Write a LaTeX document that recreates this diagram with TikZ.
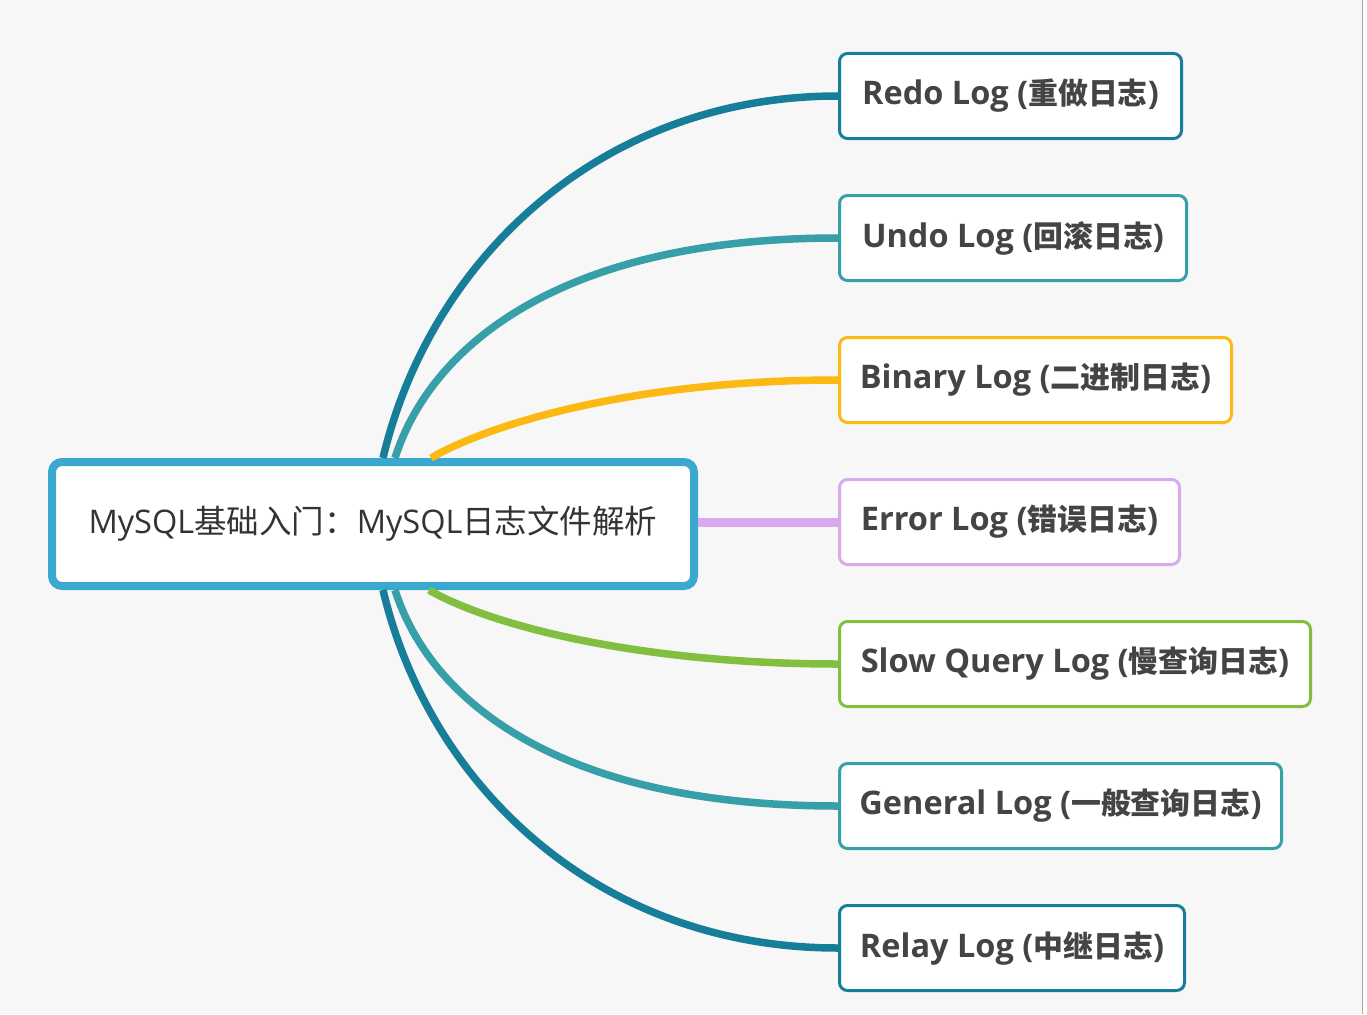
\documentclass[tikz,border=0pt]{standalone}
\usepackage{fontspec}
\setmainfont{Open Sans}
\newfontfamily\cjk[Scale=0.92]{Noto Sans CJK SC}
\newfontfamily\cjkroot{Noto Sans CJK SC}
\usetikzlibrary{positioning}

\definecolor{bgcol}{HTML}{F7F7F7}
\definecolor{rootblue}{HTML}{3BA8D0}
\definecolor{deepteal}{HTML}{167E98}
\definecolor{lightteal}{HTML}{369FA8}
\definecolor{amber}{HTML}{FDB913}
\definecolor{lilac}{HTML}{D9A9EE}
\definecolor{leaf}{HTML}{82BF41}
\definecolor{inkgray}{HTML}{444444}

\tikzset{
  rootbox/.style={draw=rootblue, line width=8pt, fill=white, rounded corners=10pt,
    minimum width=642pt, minimum height=124pt, inner sep=0pt, text=black!80,
    font=\fontsize{32.5}{38}\selectfont},
  logbox/.style={draw=#1, line width=3pt, fill=white, rounded corners=8pt,
    minimum height=85pt, inner sep=0pt, anchor=west, text=inkgray,
    font=\bfseries\fontsize{32.5}{38}\selectfont},
  link/.style={draw=#1, line width=7.5pt},
}

\begin{document}
\begin{tikzpicture}[x=1pt, y=-1pt]

        % page
        \useasboundingbox (0,0) rectangle (1367,1014);
        \fill[white] (0,0) rectangle (1367,1014);
        \fill[bgcol] (0,0) rectangle (1362,1014);
        \draw[gray!70, line width=1pt] (1362,0) -- (1362,1014);

        % central topic
        \node[rootbox] (root) at (373, 524) {MySQL{\cjkroot 基础入门：}MySQL{\cjkroot 日志文件解析}};

        % log types
        \node[logbox=deepteal, minimum width=342pt] (redo) at (838, 96) {Redo Log ({\cjk 重做日志})};
        \node[logbox=lightteal, minimum width=347pt] (undo) at (838, 238) {Undo Log ({\cjk 回滚日志})};
        \node[logbox=amber, minimum width=392pt] (binary) at (838, 380) {Binary Log ({\cjk 二进制日志})};
        \node[logbox=lilac, minimum width=340pt] (error) at (838, 522) {Error Log ({\cjk 错误日志})};
        \node[logbox=leaf, minimum width=471pt] (slow) at (838, 664) {Slow Query Log ({\cjk 慢查询日志})};
        \node[logbox=lightteal, minimum width=442pt] (general) at (838, 806) {General Log ({\cjk 一般查询日志})};
        \node[logbox=deepteal, minimum width=345pt] (relay) at (838, 948) {Relay Log ({\cjk 中继日志})};

        % branches
        \draw[link=deepteal] ([xshift=10pt]root.north) .. controls +(47,-198) and +(-238,0) .. (redo.west);
        \draw[link=lightteal] ([xshift=22pt]root.north) .. controls +(35,-110) and +(-280,0) .. (undo.west);
        \draw[link=amber] ([xshift=58pt]root.north) .. controls +(60,-35) and +(-200,0) .. (binary.west);
        \draw[link=lilac, line width=9pt] (root.east |- error.west) -- (error.west);
        \draw[link=leaf] ([xshift=56pt]root.south) .. controls +(60,35) and +(-200,0) .. (slow.west);
        \draw[link=lightteal] ([xshift=22pt]root.south) .. controls +(35,110) and +(-280,0) .. (general.west);
        \draw[link=deepteal] ([xshift=10pt]root.south) .. controls +(47,198) and +(-238,0) .. (relay.west);

\end{tikzpicture}
\end{document}
